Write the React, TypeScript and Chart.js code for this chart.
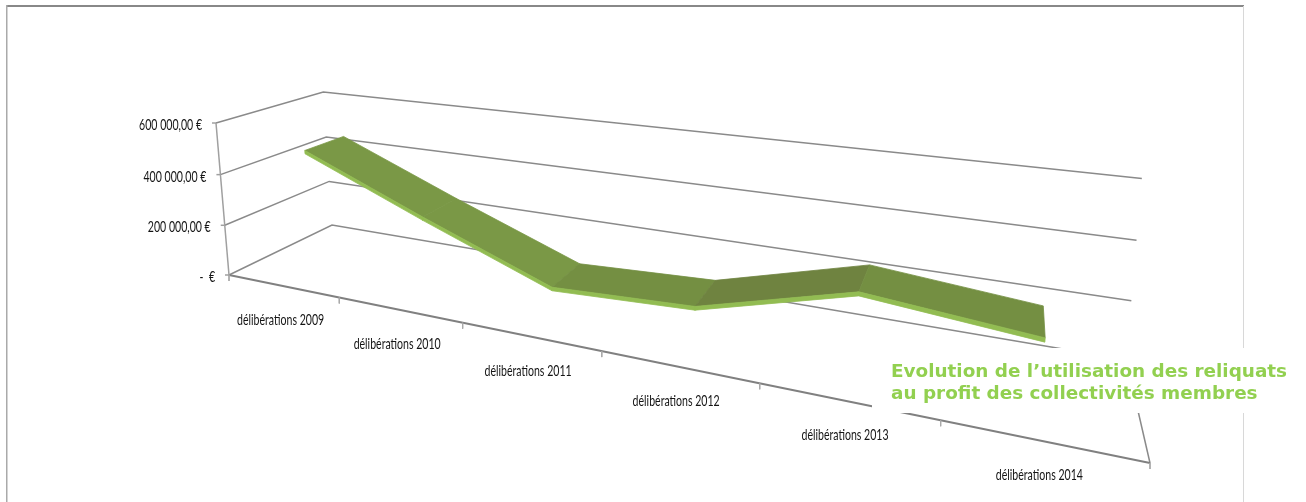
import React, { useEffect, useRef } from "react";
import { Chart, registerables } from "chart.js";

Chart.register(...registerables);

const WIDTH = 1306;
const HEIGHT = 502;

// Series and axis content
const categories = [
  "délibérations 2009",
  "délibérations 2010",
  "délibérations 2011",
  "délibérations 2012",
  "délibérations 2013",
  "délibérations 2014",
];
const reliquats = [480000, 288000, 106000, 129000, 270000, 222000];
const axisValues = [0, 200000, 400000, 600000];
const axisLabels = ["-  €", "200 000,00 €", "400 000,00 €", "600 000,00 €"];
const segmentColors = ["#7A9846", "#7A9846", "#748F42", "#6F8340", "#748F42"];
const titleLines = [
  "Evolution de l’utilisation des reliquats",
  "au profit des collectivités membres",
];

const AXIS_MAX = 600000;
const RIBBON_NEAR = 0.28;
const RIBBON_FAR = 0.66;
const RIBBON_THICKNESS = 13000;

// Perspective camera: screen position of the plot box corners and the
// homogeneous weights along the category, depth and value directions.
const ORIGIN = { x: 229, y: 275 };
const END_CATEGORY = { x: 1150, y: 463 };
const END_DEPTH = { x: 332, y: 225 };
const END_VALUE = { x: 216, y: 123 };
const W_T = -0.32;
const W_D = 0.15;
const W_H = -0.028;

function project(t: number, depth: number, value: number) {
  const h = value / AXIS_MAX;
  const w = 1 + W_T * t + W_D * depth + W_H * h;
  const along = (k: "x" | "y") =>
    ORIGIN[k] +
    t * ((1 + W_T) * END_CATEGORY[k] - ORIGIN[k]) +
    depth * ((1 + W_D) * END_DEPTH[k] - ORIGIN[k]) +
    h * ((1 + W_H) * END_VALUE[k] - ORIGIN[k]);
  return { x: along("x") / w, y: along("y") / w };
}

const slot = (i: number) => (i + 0.5) / categories.length;

type Pt = { x: number; y: number };

function lineSet(data: Pt[], color: string, width: number) {
  return {
    data,
    showLine: true,
    borderColor: color,
    borderWidth: width,
    pointRadius: 0,
    tension: 0,
    fill: false as const,
  };
}

function shapeSet(data: Pt[], color: string) {
  return {
    data: [...data, data[0]],
    showLine: true,
    borderColor: color,
    backgroundColor: color,
    borderWidth: 0.8,
    pointRadius: 0,
    tension: 0,
    fill: "shape" as const,
  };
}

function buildDatasets() {
  const sets: any[] = [];
  const grid = "#8A8A8A";

  // Walls: each value has a line across the side wall and the back wall
  axisValues.forEach((v) => {
    sets.push(
      lineSet([project(0, 0, v), project(0, 1, v), project(1, 1, v)], grid, 1.5)
    );
  });
  // Floor edges, value axis and tick marks
  sets.push(lineSet([project(1, 1, 0), project(1, 0, 0)], grid, 1.5));
  sets.push(lineSet([project(0, 0, 0), project(1, 0, 0)], "#808080", 2));
  sets.push(lineSet([project(0, 0, 0), project(0, 0, AXIS_MAX)], "#A0A0A0", 1.5));
  for (let i = 0; i <= categories.length; i++) {
    const p = project(i / categories.length, 0, 0);
    sets.push(lineSet([p, { x: p.x, y: p.y + 6 }], "#A8A8A8", 1));
  }
  axisValues.forEach((v) => {
    const p = project(0, 0, v);
    sets.push(lineSet([p, { x: p.x - 4, y: p.y }], "#A0A0A0", 1.5));
  });

  // Ribbon: top surface per segment, then its lighter front lip
  reliquats.slice(0, -1).forEach((v, i) => {
    const next = reliquats[i + 1];
    sets.push(
      shapeSet(
        [
          project(slot(i), RIBBON_NEAR, v),
          project(slot(i + 1), RIBBON_NEAR, next),
          project(slot(i + 1), RIBBON_FAR, next),
          project(slot(i), RIBBON_FAR, v),
        ],
        segmentColors[i]
      )
    );
  });
  reliquats.slice(0, -1).forEach((v, i) => {
    const next = reliquats[i + 1];
    sets.push(
      shapeSet(
        [
          project(slot(i), RIBBON_NEAR, v),
          project(slot(i + 1), RIBBON_NEAR, next),
          project(slot(i + 1), RIBBON_NEAR, next - RIBBON_THICKNESS),
          project(slot(i), RIBBON_NEAR, v - RIBBON_THICKNESS),
        ],
        "#92BC52"
      )
    );
  });
  const total = sets.length;
  sets.forEach((s, i) => {
    s.order = total - i;
  });
  return sets;
}

function condensedText(
  ctx: CanvasRenderingContext2D,
  text: string,
  x: number,
  y: number,
  squeeze: number,
  align: CanvasTextAlign
) {
  ctx.save();
  ctx.translate(x, y);
  ctx.scale(squeeze, 1);
  ctx.textAlign = align;
  ctx.textBaseline = "middle";
  ctx.fillStyle = "#141414";
  ctx.font = '16px "Lato"';
  ctx.fillText(text, 0, 0);
  ctx.restore();
}

const frame = {
  id: "frame",
  beforeDatasetsDraw(chart: Chart) {
    const ctx = chart.ctx;
    ctx.save();
    ctx.fillStyle = "#FFFFFF";
    ctx.fillRect(0, 0, WIDTH, HEIGHT);
    ctx.fillStyle = "#888888";
    ctx.fillRect(6, 5, 1238, 2);
    ctx.fillStyle = "#AAAAAA";
    ctx.fillRect(6, 5, 1.5, HEIGHT);
    ctx.fillStyle = "#D8D8D8";
    ctx.fillRect(1243, 6, 1, HEIGHT);
    ctx.restore();
  },
};

const annotations = {
  id: "annotations",
  afterDatasetsDraw(chart: Chart) {
    const ctx = chart.ctx;
    axisValues.forEach((v, i) => {
      const p = project(0, 0, v);
      condensedText(ctx, axisLabels[i], p.x - 14, p.y + 2, 0.66, "right");
    });
    categories.forEach((c, i) => {
      const p = project(slot(i), 0, 0);
      condensedText(ctx, c, p.x - 2, p.y + 34, 0.66, "center");
    });
    ctx.save();
    ctx.fillStyle = "#FFFFFF";
    ctx.fillRect(872, 348, 430, 65);
    ctx.fillStyle = "#92D050";
    ctx.font = 'bold 18.4px "DejaVu Sans"';
    ctx.textAlign = "left";
    ctx.textBaseline = "alphabetic";
    ctx.fillText(titleLines[0], 891, 377);
    ctx.fillText(titleLines[1], 891, 399);
    ctx.restore();
  },
};

export default function App() {
  const ref = useRef<HTMLCanvasElement>(null);
  useEffect(() => {
    document.body.style.margin = "0";
    const chart = new Chart(ref.current!, {
      type: "scatter",
      data: { datasets: buildDatasets() },
      plugins: [frame, annotations],
      options: {
        animation: false,
        responsive: false,
        layout: { padding: 0 },
        plugins: { legend: { display: false }, tooltip: { enabled: false } },
        scales: {
          x: { type: "linear", min: 0, max: WIDTH, display: false },
          y: { type: "linear", min: 0, max: HEIGHT, reverse: true, display: false },
        },
      },
    });
    return () => chart.destroy();
  }, []);
  return (
    <canvas
      ref={ref}
      width={WIDTH}
      height={HEIGHT}
      style={{ display: "block", width: WIDTH, height: HEIGHT }}
    />
  );
}
